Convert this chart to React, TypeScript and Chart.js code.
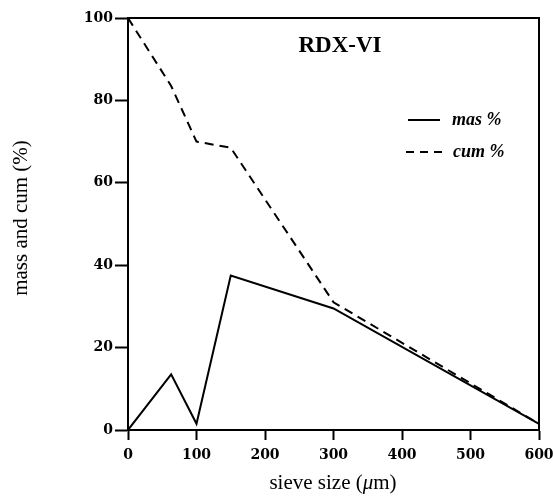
import React, { useEffect, useRef } from "react";
import { Chart, registerables } from "chart.js";

Chart.register(...registerables);

const sieveSizes = [0, 63, 100, 150, 300, 600];
const masPercent = [0, 13.5, 1.5, 37.5, 29.5, 1.5];
const cumPercent = [100, 83.5, 70, 68.5, 31, 1.5];
const xTicks = [0, 100, 200, 300, 400, 500, 600];
const yTicks = [0, 20, 40, 60, 80, 100];
const chartTitle = "RDX-VI";
const legendLabels = ["mas %", "cum %"];

const decorPlugin = {
  id: "decor",
  afterDraw(chart: any) {
    const { ctx, chartArea } = chart;
    const { left, right, top, bottom } = chartArea;
    ctx.save();
    // box
    ctx.strokeStyle = "#000";
    ctx.lineWidth = 2;
    ctx.setLineDash([]);
    ctx.beginPath();
    ctx.moveTo(left, top);
    ctx.lineTo(right, top);
    ctx.lineTo(right, bottom);
    ctx.stroke();
    // title
    ctx.fillStyle = "#000";
    ctx.textAlign = "center";
    ctx.textBaseline = "middle";
    ctx.font = "bold 23px 'Liberation Serif'";
    ctx.fillText(chartTitle, 340, 46);
    // legend
    ctx.lineWidth = 2;
    ctx.beginPath();
    ctx.moveTo(408, 120);
    ctx.lineTo(440, 120);
    ctx.stroke();
    ctx.setLineDash([8, 6]);
    ctx.beginPath();
    ctx.moveTo(406, 152);
    ctx.lineTo(443, 152);
    ctx.stroke();
    ctx.setLineDash([]);
    ctx.textAlign = "left";
    ctx.font = "italic bold 18px 'Liberation Serif'";
    ctx.fillText(legendLabels[0], 452, 120);
    ctx.fillText(legendLabels[1], 453, 152);
    // x axis title with italic mu
    ctx.textBaseline = "alphabetic";
    const partA = "sieve size (";
    const partB = "\u03bc";
    const partC = "m)";
    const normal = "21px 'Liberation Serif'";
    const ital = "italic 21px 'Liberation Serif'";
    ctx.font = normal;
    const wA = ctx.measureText(partA).width;
    const wC = ctx.measureText(partC).width;
    ctx.font = ital;
    const wB = ctx.measureText(partB).width;
    const total = wA + wB + wC;
    let x = 333 - total / 2;
    const yb = 489;
    ctx.font = normal;
    ctx.fillText(partA, x, yb);
    x += wA;
    ctx.font = ital;
    ctx.fillText(partB, x, yb);
    x += wB;
    ctx.font = normal;
    ctx.fillText(partC, x, yb);
    // y axis title
    ctx.translate(21, 218);
    ctx.rotate(-Math.PI / 2);
    ctx.textAlign = "center";
    ctx.textBaseline = "middle";
    ctx.font = normal;
    ctx.fillText("mass and cum (%)", 0, 0);
    ctx.restore();
  },
};

export default function App() {
  const ref = useRef<HTMLCanvasElement | null>(null);
  useEffect(() => {
    document.body.style.margin = "0";
    const canvas = ref.current;
    if (!canvas) return;
    const chart = new Chart(canvas, {
      type: "line",
      data: {
        datasets: [
          {
            label: legendLabels[0],
            data: sieveSizes.map((s, i) => ({ x: s, y: masPercent[i] })),
            borderColor: "#000",
            borderWidth: 2,
            pointRadius: 0,
            fill: false,
            tension: 0,
          },
          {
            label: legendLabels[1],
            data: sieveSizes.map((s, i) => ({ x: s, y: cumPercent[i] })),
            borderColor: "#000",
            borderWidth: 2,
            borderDash: [9, 6],
            pointRadius: 0,
            fill: false,
            tension: 0,
          },
        ],
      },
      options: {
        responsive: false,
        animation: false,
        layout: { padding: { left: 0, right: 14, top: 18, bottom: 0 } },
        plugins: {
          legend: { display: false },
          title: { display: false },
          tooltip: { enabled: false },
        },
        scales: {
          x: {
            type: "linear",
            min: 0,
            max: 600,
            afterBuildTicks: (scale: any) => {
              scale.ticks = xTicks.map((v) => ({ value: v }));
            },
            ticks: {
              color: "#000",
              font: { family: "'DejaVu Serif'", weight: "bold", size: 14 },
              padding: 7,
              maxRotation: 0,
            },
            grid: {
              drawOnChartArea: false,
              tickLength: 10,
              tickWidth: 2,
              tickColor: "#000",
            },
            border: { color: "#000", width: 2 },
            afterFit: (scale: any) => {
              scale.height = 66;
              scale.paddingLeft = 0;
              scale.paddingRight = 0;
            },
          },
          y: {
            min: 0,
            max: 100,
            afterBuildTicks: (scale: any) => {
              scale.ticks = yTicks.map((v) => ({ value: v }));
            },
            ticks: {
              color: "#000",
              font: { family: "'DejaVu Serif'", weight: "bold", size: 14 },
              padding: 2,
            },
            grid: {
              drawOnChartArea: false,
              tickLength: 13,
              tickWidth: 2,
              tickColor: "#000",
            },
            border: { color: "#000", width: 2 },
            afterFit: (scale: any) => {
              scale.width = 128;
              scale.paddingTop = 0;
              scale.paddingBottom = 0;
            },
          },
        },
      },
      plugins: [decorPlugin],
    } as any);
    return () => chart.destroy();
  }, []);
  return (
    <div style={{ position: "absolute", left: 0, top: 0, width: 553, height: 496 }}>
      <canvas ref={ref} width={553} height={496} />
    </div>
  );
}
